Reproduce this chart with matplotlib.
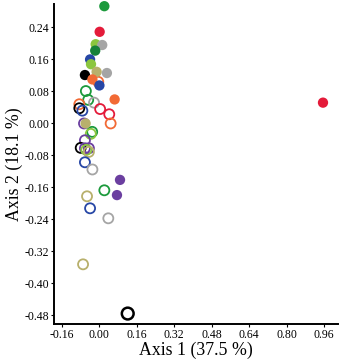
import matplotlib
matplotlib.use("Agg")
from matplotlib import pyplot as plt

plt.rcParams['font.family'] = ['Liberation Serif', 'DejaVu Serif']

####
# data
####
GREEN = "#1c9a3c"
DKGREEN = "#17813a"
RED = "#e41b3a"
YGREEN = "#8cc63f"
GRAY = "#a5a5a5"
BLUE = "#2747a6"
KHAKI = "#b8b06c"
BLACK = "#000000"
ORANGE = "#f26a35"
PURPLE = "#6b3fa0"

filled_x = [0.021, 0.001, -0.016, 0.012, -0.018, -0.040, -0.036, -0.012, 0.032,
            -0.062, -0.030, 0.000, 0.065, -0.059, 0.088, 0.075, 0.956]
filled_y = [0.292, 0.228, 0.197, 0.195, 0.181, 0.159, 0.147, 0.128, 0.125,
            0.120, 0.109, 0.094, 0.059, -0.001, -0.142, -0.180, 0.051]
filled_colors = [GREEN, RED, YGREEN, GRAY, DKGREEN, BLUE, YGREEN, KHAKI, GRAY,
                 BLACK, ORANGE, BLUE, ORANGE, KHAKI, PURPLE, PURPLE, RED]

open_x = [-0.005, -0.058, -0.048, -0.023, 0.003, 0.042, 0.048, -0.086, -0.086,
          -0.073, -0.066, -0.031, -0.037, -0.062, -0.080, -0.062, -0.045,
          -0.056, -0.045, -0.062, -0.030, 0.021, -0.053, -0.040, 0.038, -0.070]
open_y = [0.103, 0.080, 0.058, 0.051, 0.035, 0.022, -0.001, 0.047, 0.037,
          0.031, -0.001, -0.022, -0.027, -0.043, -0.062, -0.063, -0.063,
          -0.067, -0.072, -0.098, -0.116, -0.168, -0.183, -0.213, -0.238, -0.353]
open_colors = [ORANGE, GREEN, GREEN, GRAY, RED, RED, ORANGE, ORANGE, BLACK,
               BLUE, PURPLE, GREEN, YGREEN, PURPLE, BLACK, PURPLE, PURPLE,
               YGREEN, KHAKI, BLUE, GRAY, GREEN, KHAKI, BLUE, GRAY, KHAKI]

big_x = [0.121]
big_y = [-0.476]

xticks = [-0.16, 0.00, 0.16, 0.32, 0.48, 0.64, 0.80, 0.96]
yticks = [0.24, 0.16, 0.08, 0.00, -0.08, -0.16, -0.24, -0.32, -0.40, -0.48]

fig = plt.figure(figsize=(3.4, 3.63), dpi=100)
ax = fig.add_axes([0.159, 0.107, 0.835, 0.882])

ax.scatter(open_x, open_y, s=52, facecolors='none', edgecolors=open_colors,
           linewidths=1.3, zorder=2, clip_on=False)
ax.scatter(filled_x, filled_y, s=55, c=filled_colors, edgecolors='none',
           zorder=3, clip_on=False)
ax.scatter(big_x, big_y, s=72, facecolors='none', edgecolors=BLACK,
           linewidths=1.8, zorder=2, clip_on=False)

ax.set_xlim(-0.194, 1.02)
ax.set_ylim(-0.5025, 0.2975)
ax.set_xticks(xticks)
ax.set_xticklabels(["%.2f" % v for v in xticks])
ax.set_yticks(yticks)
ax.set_yticklabels(["%.2f" % v for v in yticks])

ax.spines['top'].set_visible(False)
ax.spines['right'].set_visible(False)
ax.spines['left'].set_linewidth(1.4)
ax.spines['bottom'].set_linewidth(1.4)
ax.tick_params(labelsize=8.5, length=2.5, width=0.8, pad=1.2)

ax.set_xlabel("Axis 1 (37.5 %)", fontsize=12.8, labelpad=0)
ax.set_ylabel("Axis 2 (18.1 %)", fontsize=12.8, labelpad=1)

plt.savefig("out.png", dpi=100)
